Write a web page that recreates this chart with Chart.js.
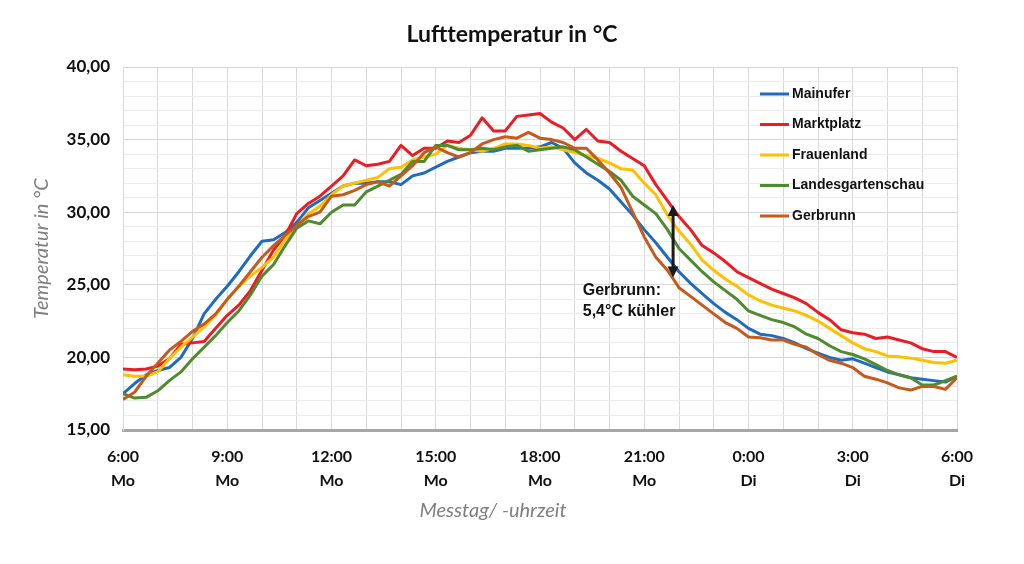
<!DOCTYPE html>
<html>
<head>
<meta charset="utf-8">
<script src="https://cdn.jsdelivr.net/npm/chart.js@4.4.0/dist/chart.umd.min.js"></script>
<style>
    html, body { margin: 0; padding: 0; background: #fff; }
</style>
</head>
<body>
<canvas id="chart" width="1024" height="564"></canvas>
<script>
// 20-minute readings, Mo 6:00 -> Di 6:00 (one row = one hour)
var seriesNames = ["Mainufer", "Marktplatz", "Frauenland", "Landesgartenschau", "Gerbrunn"];
var seriesColors = ["#1f6cbf", "#ec1c24", "#ffc000", "#4e8a2e", "#c55a1b"];

var mainufer = [
    17.5, 18.2, 18.8,
    19.1, 19.3, 20.0,
    21.3, 23.0, 24.0,
    24.9, 25.9, 27.0,
    28.0, 28.1, 28.6,
    29.3, 30.3, 30.8,
    31.3, 31.8, 32.0,
    32.0, 32.1, 32.1,
    31.9, 32.5, 32.7,
    33.1, 33.5, 33.8,
    34.1, 34.2, 34.2,
    34.4, 34.4, 34.4,
    34.5, 34.8, 34.4,
    33.4, 32.7, 32.2,
    31.6, 30.7, 29.8,
    28.8, 27.9, 26.9,
    25.9, 25.1, 24.4,
    23.7, 23.1, 22.6,
    22.0, 21.6, 21.5,
    21.3, 21.0, 20.6,
    20.3, 20.0, 19.8,
    19.9, 19.6, 19.3,
    19.0, 18.8, 18.6,
    18.5, 18.4, 18.3,
    18.7
];
var marktplatz = [
    19.2, 19.15, 19.2,
    19.4, 19.9, 20.9,
    21.0, 21.1, 22.0,
    22.9, 23.6, 24.6,
    26.0, 27.4, 28.4,
    29.9, 30.6, 31.1,
    31.8, 32.5, 33.6,
    33.2, 33.3, 33.5,
    34.6, 33.9, 34.4,
    34.4, 34.9, 34.8,
    35.3, 36.5, 35.6,
    35.6, 36.6, 36.7,
    36.8, 36.2, 35.8,
    35.0, 35.7, 34.9,
    34.8, 34.2, 33.7,
    33.2, 31.9, 30.8,
    29.7, 28.8, 27.7,
    27.2, 26.6, 25.9,
    25.5, 25.1, 24.7,
    24.4, 24.1, 23.7,
    23.1, 22.6, 21.9,
    21.7, 21.6, 21.3,
    21.4, 21.2, 21.0,
    20.6, 20.4, 20.4,
    20.0
];
var frauenland = [
    18.8, 18.7, 18.7,
    19.0, 19.9, 20.7,
    21.4, 22.1, 22.9,
    24.0, 24.9, 25.6,
    26.2, 26.9, 28.1,
    29.0, 29.9, 30.4,
    31.2, 31.8, 32.0,
    32.2, 32.4, 33.0,
    33.1, 33.6, 33.8,
    34.0, 34.6, 34.4,
    34.3, 34.2, 34.4,
    34.7, 34.7, 34.6,
    34.4, 34.5, 34.3,
    34.1, 33.9, 33.7,
    33.4, 33.0, 32.9,
    32.0, 31.2, 29.8,
    28.7, 27.8, 26.7,
    26.0, 25.4, 24.9,
    24.3, 23.9, 23.6,
    23.4, 23.2, 22.9,
    22.5, 22.0, 21.5,
    21.0, 20.6, 20.4,
    20.1, 20.05, 19.95,
    19.8, 19.65, 19.6,
    19.8
];
var landesgartenschau = [
    17.5, 17.2, 17.25,
    17.7, 18.4, 19.0,
    19.9, 20.7, 21.5,
    22.4, 23.2, 24.3,
    25.6, 26.4, 27.7,
    28.9, 29.4, 29.2,
    30.0, 30.5, 30.5,
    31.4, 31.8, 32.2,
    32.6, 33.5, 33.5,
    34.6, 34.6, 34.3,
    34.3, 34.4, 34.3,
    34.5, 34.6, 34.2,
    34.3, 34.4, 34.5,
    34.3, 33.8, 33.3,
    32.8, 32.2, 31.1,
    30.5, 29.9, 28.8,
    27.5, 26.7, 25.9,
    25.2, 24.6, 24.0,
    23.2, 22.9, 22.6,
    22.4, 22.1, 21.6,
    21.3, 20.8, 20.4,
    20.2, 19.9, 19.5,
    19.1, 18.8, 18.6,
    18.1, 18.1, 18.4,
    18.7
];
var gerbrunn = [
    17.1, 17.6, 18.7,
    19.6, 20.5, 21.1,
    21.8, 22.3, 23.0,
    24.0, 24.9, 25.9,
    26.9, 27.7, 28.4,
    29.1, 29.7, 30.0,
    31.1, 31.2, 31.5,
    31.9, 32.1, 31.8,
    32.5, 33.2, 34.1,
    34.5, 34.1, 33.8,
    34.1, 34.7, 35.0,
    35.2, 35.1, 35.5,
    35.1, 35.0, 34.8,
    34.4, 34.4, 33.6,
    32.7, 31.7, 30.0,
    28.3, 26.9, 26.0,
    24.8, 24.2, 23.6,
    23.0, 22.4, 22.0,
    21.4, 21.35, 21.2,
    21.2, 20.9, 20.7,
    20.2, 19.8, 19.6,
    19.3, 18.7, 18.5,
    18.25, 17.9, 17.75,
    18.0, 18.0, 17.8,
    18.6
];

var xTimes = ["6:00", "9:00", "12:00", "15:00", "18:00", "21:00", "0:00", "3:00", "6:00"];
var xDays = ["Mo", "Mo", "Mo", "Mo", "Mo", "Mo", "Di", "Di", "Di"];

var chartTitle = "Lufttemperatur in °C";
var xTitle = "Messtag/ -uhrzeit";
var yTitle = "Temperatur in °C";

// annotation: hours after 6:00 / °C
var arrowAt = 15.83, arrowTop = 30.5, arrowBottom = 25.5;
var noteAt = 13.23, noteTemp = 24.6;
var noteLines = ["Gerbrunn:", "5,4°C kühler"];

var allSeries = [mainufer, marktplatz, frauenland, landesgartenschau, gerbrunn];

function toPoints(values) {
    return values.map(function (v, i) {
        return { x: i / 3, y: v };
    });
}

var overlay = {
    id: "overlay",
    afterDatasetsDraw: function (chart) {
        var ctx = chart.ctx;
        var area = chart.chartArea;
        var xs = chart.scales.x;
        var ys = chart.scales.y;
        ctx.save();

        // title (centred on the whole picture, not the plot)
        ctx.font = "bold 23px Lato, 'Open Sans', sans-serif";
        ctx.fillStyle = "#111";
        ctx.textAlign = "center";
        ctx.textBaseline = "middle";
        ctx.fillText(chartTitle, chart.width / 2, 35);

        // x axis title
        ctx.font = "italic 20px Lato, 'Open Sans', sans-serif";
        ctx.fillStyle = "#7f7f7f";
        ctx.fillText(xTitle, 493, 511);

        // legend inside plot
        var lx = area.right - 197;
        var ly = area.top + 27;
        ctx.font = "bold 14px 'Liberation Sans', Arial, sans-serif";
        ctx.textAlign = "left";
        chart.data.datasets.forEach(function (ds, i) {
            var y = ly + i * 30.5;
            ctx.strokeStyle = ds.borderColor;
            ctx.lineWidth = 3;
            ctx.beginPath();
            ctx.moveTo(lx, y);
            ctx.lineTo(lx + 29, y);
            ctx.stroke();
            ctx.fillStyle = "#111";
            ctx.fillText(ds.label, lx + 32, y);
        });

        // double arrow
        var ax = xs.getPixelForValue(arrowAt);
        var y1 = ys.getPixelForValue(arrowTop);
        var y2 = ys.getPixelForValue(arrowBottom);
        ctx.strokeStyle = "#1a1a1a";
        ctx.fillStyle = "#1a1a1a";
        ctx.lineWidth = 3;
        ctx.beginPath();
        ctx.moveTo(ax, y1 + 8);
        ctx.lineTo(ax, y2 - 8);
        ctx.stroke();
        ctx.beginPath();
        ctx.moveTo(ax, y1);
        ctx.lineTo(ax - 5.5, y1 + 11);
        ctx.lineTo(ax + 5.5, y1 + 11);
        ctx.closePath();
        ctx.fill();
        ctx.beginPath();
        ctx.moveTo(ax, y2);
        ctx.lineTo(ax - 5.5, y2 - 11);
        ctx.lineTo(ax + 5.5, y2 - 11);
        ctx.closePath();
        ctx.fill();

        // note text
        var nx = xs.getPixelForValue(noteAt);
        var ny = ys.getPixelForValue(noteTemp);
        ctx.font = "bold 16px 'Liberation Sans', Arial, sans-serif";
        ctx.fillStyle = "#111";
        noteLines.forEach(function (t, i) {
            ctx.fillText(t, nx, ny + i * 21);
        });
        ctx.restore();
    },
};

var datasets = allSeries.map(function (values, i) {
    return {
        label: seriesNames[i],
        data: toPoints(values),
        borderColor: seriesColors[i],
        backgroundColor: seriesColors[i],
        borderWidth: 3,
        pointRadius: 0,
        tension: 0,
        borderJoinStyle: "round",
        order: allSeries.length - i,
    };
});

var ctx = document.getElementById("chart").getContext("2d");
var myChart = new Chart(ctx, {
    type: "line",
    data: { datasets: datasets },
    plugins: [overlay],
    options: {
        responsive: false,
        animation: false,
        layout: { padding: { left: 0, right: 67, top: 67, bottom: 34 } },
        plugins: {
            legend: { display: false },
            tooltip: { enabled: false },
            title: { display: false },
        },
        scales: {
            x: {
                type: "linear",
                min: 0,
                max: 24,
                afterFit: function (scale) {
                    scale.height = 100;
                },
                ticks: {
                    stepSize: 1,
                    autoSkip: false,
                    maxRotation: 0,
                    padding: 14,
                    color: "#111",
                    font: { family: "Lato, 'Open Sans', sans-serif", size: 16, weight: "bold", lineHeight: 1.55 },
                    callback: function (value) {
                        if (value % 3 !== 0) return "";
                        var k = value / 3;
                        return [xTimes[k], xDays[k]];
                    },
                },
                grid: { color: "#d9d9d9", drawTicks: false, tickLength: 0 },
                border: { color: "#a6a6a6", width: 3 },
            },
            y: {
                min: 15,
                max: 40,
                afterFit: function (scale) {
                    scale.width = 123;
                },
                ticks: {
                    stepSize: 1,
                    autoSkip: false,
                    padding: 13,
                    color: "#111",
                    font: { family: "Lato, 'Open Sans', sans-serif", size: 17, weight: "bold" },
                    callback: function (value) {
                        if (value % 5 !== 0) return "";
                        return value.toFixed(2).replace(".", ",");
                    },
                },
                grid: {
                    drawTicks: false,
                    tickLength: 0,
                    color: function (c) {
                        return c.tick && c.tick.value % 5 === 0 ? "#d6d6d6" : "#ececec";
                    },
                },
                border: { color: "#d9d9d9", width: 1 },
                title: {
                    display: true,
                    text: yTitle,
                    color: "#7f7f7f",
                    font: { family: "Lato, 'Open Sans', sans-serif", size: 20, style: "italic" },
                    padding: { top: 30, bottom: 0 },
                },
            },
        },
    },
});
</script>
</body>
</html>
